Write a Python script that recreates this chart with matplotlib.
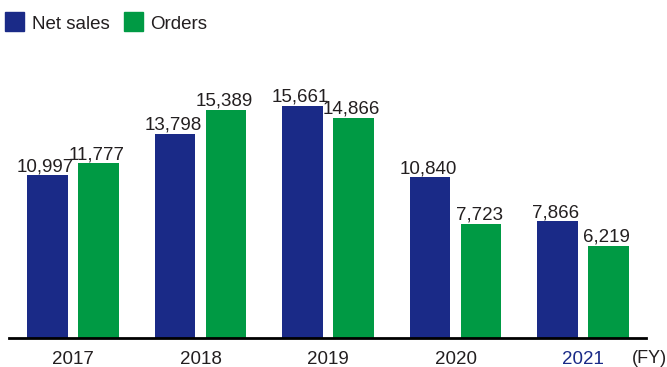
import numpy as np
import matplotlib
matplotlib.use('Agg')
import matplotlib.pyplot as plt
from matplotlib.patches import Rectangle
from matplotlib import transforms

years = ['2017', '2018', '2019', '2020', '2021']
net_sales = [10997, 13798, 15661, 10840, 7866]
orders = [11777, 15389, 14866, 7723, 6219]

navy = '#1a2a87'
green = '#009a44'
text_color = '#231f20'

plt.rcParams['font.family'] = ['Liberation Sans', 'DejaVu Sans']

fig = plt.figure(figsize=(6.67, 3.67), dpi=100)
W, H = 667, 367
# axes from the baseline up; x in group units, 127.5 px per group
ax = fig.add_axes([9 / W, 29 / H, 637 / W, 277 / H])
x = np.arange(len(years))
ax.set_xlim(-0.502, 4.494)
ax.set_ylim(0, 277 / 0.01482)

bw = 0.32
off = 0.2
b1 = ax.bar(x - off, net_sales, bw, color=navy)
b2 = ax.bar(x + off, orders, bw, color=green)

shift = transforms.offset_copy(ax.transData, fig=fig, x=-2, y=4, units='dots')
for bars, vals in ((b1, net_sales), (b2, orders)):
    for r, v in zip(bars, vals):
        ax.text(r.get_x() + r.get_width() / 2, v, f'{v:,}', ha='center', va='baseline',
                fontsize=13.5, color=text_color, transform=shift)

for s in ['top', 'right', 'left']:
    ax.spines[s].set_visible(False)
ax.spines['bottom'].set_linewidth(2)
ax.spines['bottom'].set_color('#000000')
ax.set_yticks([])
ax.set_xticks(x)
ax.set_xticklabels(years, fontsize=13.5, color=text_color)
ax.get_xticklabels()[-1].set_color(navy)
ax.tick_params(axis='x', length=0, pad=9)
fig.text(632 / W, 1 - 363 / H, '(FY)', fontsize=13, color=text_color, ha='left', va='baseline')

# legend drawn by hand
fig.patches.append(Rectangle((5 / W, 1 - 31 / H), 19 / W, 19 / H, transform=fig.transFigure,
                             color=navy, figure=fig))
fig.text(32 / W, 1 - 29 / H, 'Net sales', fontsize=13.5, color=text_color, va='baseline')
fig.patches.append(Rectangle((124 / W, 1 - 31 / H), 19 / W, 19 / H, transform=fig.transFigure,
                             color=green, figure=fig))
fig.text(150 / W, 1 - 29 / H, 'Orders', fontsize=13.5, color=text_color, va='baseline')

fig.savefig('out.png', dpi=100)
